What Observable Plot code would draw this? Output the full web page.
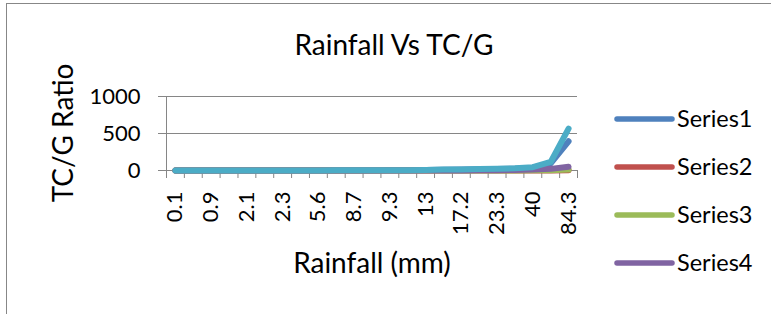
<!DOCTYPE html>
<html><head><meta charset="utf-8">
<script src="https://cdn.jsdelivr.net/npm/d3@7"></script>
<script src="https://cdn.jsdelivr.net/npm/@observablehq/plot@0.6"></script>
<style>
body{margin:0;background:#fff;}
#chart{position:relative;width:771px;height:314px;overflow:hidden;background:#fff;}
#frame{position:absolute;left:6px;top:3px;width:800px;height:340px;border:1px solid #878787;}
#plot{position:absolute;left:0;top:0;}
#overlay{position:absolute;left:0;top:0;}
</style></head><body>
<div id="chart"><div id="frame"></div><div id="plot"></div><svg id="overlay" width="771" height="314"></svg></div>
<script>
const categories = ["0.1","0.5","0.9","1.5","2.1","2.2","2.3","3.5","5.6","7","8.7","9","9.3","11","13","15","17.2","20","23.3","30","40","60","84.3"];
const series1 = [1,1,1,1,1,1,1,1,1,1,1,1,2,4,6,9,12,16,20,25,38,95,395];
const series2 = [0,0,0,0,0,0,0,0,0,0,0,0,0,0,0,0,0,0,0,0,0,1,3];
const series3 = [0,0,0,0,0,0,0,0,0,0,0,0,0,0,0,0,0,0,0,0,2,4,12];
const series4 = [0,0,0,0,0,0,0,0,0,0,0,0,0,0,0,0,0,2,4,7,12,22,50];
const series5 = [1,1,1,1,1,1,1,1,1,2,2,2,3,5,8,12,15,20,25,30,45,115,565];
const seriesNames = ["Series1","Series2","Series3","Series4","Series5"];
const seriesColors = ["#4F81BD","#C0504D","#9BBB59","#8064A2","#4BACC6"];
const legendNames = ["Series1","Series2","Series3","Series4"];
const yTicks = [0,500,1000];
const chartTitle = "Rainfall Vs TC/G";
const xTitle = "Rainfall (mm)";
const yTitle = "TC/G Ratio";

const allSeries = [series1,series2,series3,series4,series5];
const rows = [];
allSeries.forEach((s,k)=>s.forEach((v,i)=>rows.push({i, name: seriesNames[k], value: v})));
const idx = categories.map((c,i)=>i);
const boundaries = idx.map(i=>i-0.5).concat([categories.length-0.5]);
const labelIdx = idx.filter(i=>i%2===0);

const plot = Plot.plot({
  width: 771, height: 314,
  marginLeft: 166, marginRight: 194, marginTop: 96, marginBottom: 144,
  style: {fontFamily: "Lato, sans-serif", fontSize: "22px", color: "#000", background: "transparent", overflow: "visible"},
  x: {type: "linear", domain: [-0.5, categories.length-0.5], axis: null, label: null},
  y: {domain: [0, 1000], axis: null, label: null},
  color: {domain: seriesNames, range: seriesColors},
  marks: [
    Plot.ruleY(yTicks, {y: d=>d, stroke: "#868686"}),
    Plot.ruleX([-0.5], {x: d=>d, stroke: "#868686"}),
    Plot.axisY(yTicks, {label: null, tickSize: 8, tickPadding: 18, stroke: "#868686", fill: "#000", fontSize: 22, tickFormat: d=>String(d)}),
    Plot.axisX(boundaries, {label: null, tickSize: 8, tickFormat: ()=>"", stroke: "#868686"}),
    Plot.axisX(labelIdx, {label: null, tickSize: 0, tickPadding: 21, tickRotate: -90, fill: "#000", fontSize: 22, tickFormat: i=>categories[i]}),
    Plot.lineY(rows, {x: "i", y: "value", z: "name", stroke: "name", strokeWidth: 6, strokeLinecap: "round", strokeLinejoin: "round"})
  ]
});
document.getElementById("plot").appendChild(plot);

const ov = d3.select("#overlay");
const font = "Lato, sans-serif";
ov.append("text").attr("x", 394).attr("y", 55).attr("text-anchor","middle").attr("font-family",font).attr("font-size",28).text(chartTitle);
ov.append("text").attr("x", 372).attr("y", 273).attr("text-anchor","middle").attr("font-family",font).attr("font-size",28).text(xTitle);
ov.append("text").attr("transform","translate(73,133) rotate(-90)").attr("text-anchor","middle").attr("font-family",font).attr("font-size",28).text(yTitle);
const lg = ov.selectAll("g.lg").data(legendNames).join("g").attr("class","lg")
  .attr("transform",(d,i)=>`translate(0,${119 + i*48})`);
lg.append("line").attr("x1",617).attr("x2",672).attr("y1",0).attr("y2",0)
  .attr("stroke",(d,i)=>seriesColors[i]).attr("stroke-width",5.5).attr("stroke-linecap","round");
lg.append("text").attr("x",677).attr("y",8).attr("font-family",font).attr("font-size",23.5).text(d=>d);
</script>
</body></html>
